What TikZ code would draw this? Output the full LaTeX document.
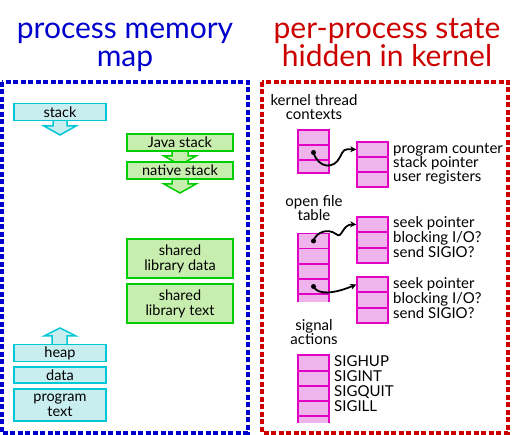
\documentclass[tikz,border=0pt]{standalone}
\usepackage{fontspec}
\setmainfont{Lato}
\usetikzlibrary{arrows.meta}
\definecolor{bluedash}{RGB}{0,0,205}
\definecolor{reddash}{RGB}{205,0,0}
\definecolor{cyanfill}{RGB}{200,238,240}
\definecolor{cyanline}{RGB}{0,200,215}
\definecolor{greenfill}{RGB}{200,238,175}
\definecolor{greenline}{RGB}{0,205,0}
\definecolor{pinkfill}{RGB}{240,180,236}
\definecolor{pinkline}{RGB}{225,0,195}
\tikzset{
  title/.style={font=\fontsize{30}{30}\selectfont, anchor=base, inner sep=0},
  framebox/.style={line width=4, dash pattern=on 5 off 2.5},
  cbox/.style={draw=cyanline, fill=cyanfill, line width=1.5, minimum width=92, inner sep=0,
    align=center, font=\fontsize{14.5}{15}\selectfont},
  gbox/.style={draw=greenline, fill=greenfill, line width=1.5, minimum width=106, inner sep=0,
    align=center, font=\fontsize{14.5}{15}\selectfont},
  carrow/.style={draw=cyanline, fill=cyanfill, line width=1.5, line join=miter},
  garrow/.style={draw=greenline, fill=greenfill, line width=1.5, line join=miter},
  pcell/.style={draw=pinkline, fill=pinkfill, line width=1.5, minimum width=31, minimum height=15, inner sep=0},
  lbl/.style={font=\fontsize{15}{15}\selectfont, inner sep=0, anchor=base west},
  hdr/.style={font=\fontsize{15}{15}\selectfont, inner sep=0, anchor=base},
  ptr/.style={line width=1.8, -{Stealth[length=6, width=6]}},
  dot/.style={fill=black, circle, inner sep=0, minimum size=5}
}
\begin{document}
\begin{tikzpicture}[x=1pt,y=-1pt]
\useasboundingbox (0,0) rectangle (515,435);
\fill[white] (0,0) rectangle (515,435);

% titles
\node[title, text=bluedash] (t1a) at (125,39) {process memory};
\node[title, text=bluedash] (t1b) at (125,67) {map};
\node[title, text=reddash] (t2a) at (387,39) {per-process state};
\node[title, text=reddash] (t2b) at (387,67) {hidden in kernel};

% frames
\draw[framebox, bluedash] (1.5,82) rectangle (247.5,433);
\draw[framebox, reddash] (262,82) rectangle (508,433);

% left: memory map arrows
\path[carrow] (53,119) -- (67,119) -- (67,126) -- (76,126) -- (60,135) -- (44,126) -- (53,126) -- cycle;
\path[garrow] (172,150) -- (188,150) -- (188,156) -- (196,156) -- (180,165) -- (164,156) -- (172,156) -- cycle;
\path[garrow] (172,178) -- (188,178) -- (188,184) -- (196,184) -- (180,193) -- (164,184) -- (172,184) -- cycle;
\path[carrow] (52,346) -- (67,346) -- (67,336) -- (76,336) -- (60,328) -- (44,336) -- (52,336) -- cycle;

% left: memory map boxes
\node[cbox, minimum height=17] (stack) at (60,112) {stack};
\node[gbox, minimum height=17] (java) at (180,142.5) {Java stack};
\node[gbox, minimum height=17] (native) at (180,170.5) {native stack};
\node[gbox, minimum height=39] (sld) at (180,258.5) {shared\\library data};
\node[gbox, minimum height=39] (slt) at (180,303.5) {shared\\library text};
\node[cbox, minimum height=17] (heap) at (60,353) {heap};
\node[cbox, minimum height=16] (data) at (60,375) {data};
\node[cbox, minimum height=32] (prog) at (60,405) {program\\text};

% right: kernel thread contexts
\node[hdr] (kth) at (314,106) {kernel thread};
\node[hdr] (ktc) at (314,120) {contexts};
\node[pcell] (kt1) at (313.5,137.5) {};
\node[pcell] (kt2) at (313.5,152.5) {};
\node[pcell, minimum height=13] (kt3) at (313.5,166.5) {};

\node[pcell] (pc1) at (372.5,149.5) {};
\node[pcell] (pc2) at (372.5,164.5) {};
\node[pcell] (pc3) at (372.5,179.5) {};
\node[lbl] (pcl1) at (393,154) {program counter};
\node[lbl] (pcl2) at (393,168) {stack pointer};
\node[lbl] (pcl3) at (393,182) {user registers};

% open file table
\node[hdr] (ofh1) at (314,207) {open file};
\node[hdr] (ofh2) at (314,221) {table};
\fill[pinkfill] (298,294) rectangle (329,302);
\draw[pinkline, line width=1.5] (298,294) -- (298,302) (329,294) -- (329,302);
\node[pcell] (of1) at (313.5,241) {};
\node[pcell] (of2) at (313.5,256) {};
\node[pcell] (of3) at (313.5,271.5) {};
\node[pcell] (of4) at (313.5,286.5) {};

\node[pcell] (fa1) at (372.5,224.5) {};
\node[pcell] (fa2) at (372.5,240) {};
\node[pcell] (fa3) at (372.5,255.5) {};
\node[lbl] (fal1) at (393,228) {seek pointer};
\node[lbl] (fal2) at (393,243) {blocking I/O?};
\node[lbl] (fal3) at (393,258) {send SIGIO?};

\node[pcell] (fb1) at (372.5,284.5) {};
\node[pcell] (fb2) at (372.5,300) {};
\node[pcell] (fb3) at (372.5,315.5) {};
\node[lbl] (fbl1) at (393,289) {seek pointer};
\node[lbl] (fbl2) at (393,304) {blocking I/O?};
\node[lbl] (fbl3) at (393,319) {send SIGIO?};

% signal actions
\node[hdr] (sah1) at (314,331) {signal};
\node[hdr] (sah2) at (314,345) {actions};
\fill[pinkfill] (298,416) rectangle (329,423);
\draw[pinkline, line width=1.5] (298,416) -- (298,423) (329,416) -- (329,423);
\node[pcell, minimum height=16] (sa1) at (313.5,363) {};
\node[pcell] (sa2) at (313.5,378.5) {};
\node[pcell] (sa3) at (313.5,393.5) {};
\node[pcell] (sa4) at (313.5,408.5) {};
\node[lbl] (sal1) at (334,367) {SIGHUP};
\node[lbl] (sal2) at (334,382) {SIGINT};
\node[lbl] (sal3) at (334,397) {SIGQUIT};
\node[lbl] (sal4) at (334,412) {SIGILL};

% pointers
\node[dot] (d1) at (kt2.center) {};
\node[dot] (d2) at (of1.center) {};
\node[dot] (d3) at (of4.center) {};
\draw[ptr] (d1.center) .. controls (318,168) and (334,170) .. (340,157) .. controls (344,149) .. (pc1.west);
\draw[ptr] (d2.center) .. controls (316,232) and (328,228) .. (336,234) .. controls (342,240) and (342,224) .. (fa1.west);
\draw[ptr] (d3.center) .. controls (318,296) and (336,293) .. (fb1.west);
\end{tikzpicture}
\end{document}
